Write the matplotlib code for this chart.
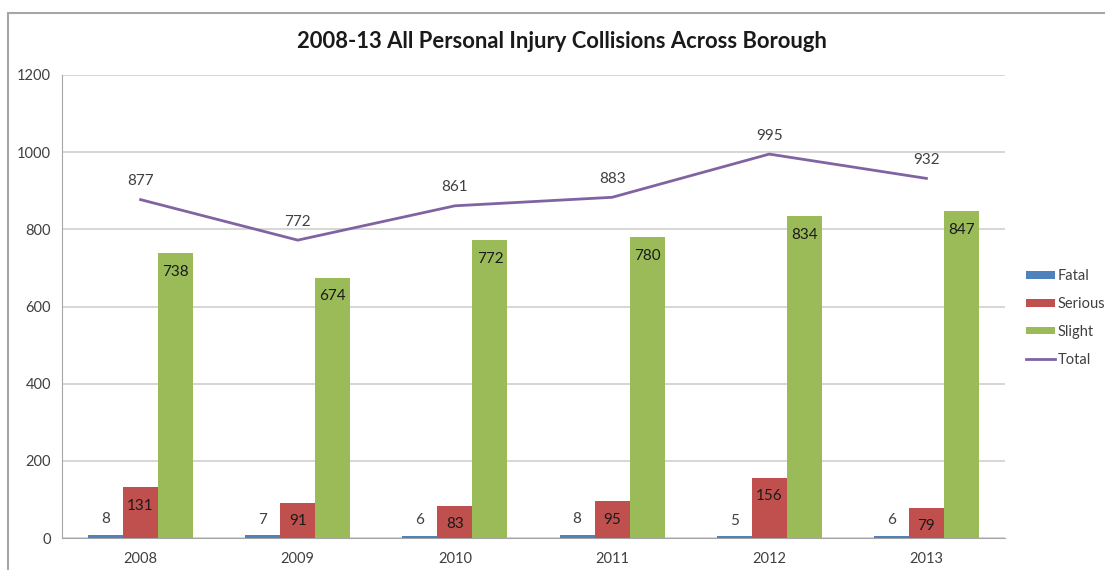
import matplotlib.pyplot as plt
import numpy as np
from matplotlib.patches import Rectangle

years = ['2008', '2009', '2010', '2011', '2012', '2013']
fatal = [8, 7, 6, 8, 5, 6]
serious = [131, 91, 83, 95, 156, 79]
slight = [738, 674, 772, 780, 834, 847]
total = [877, 772, 861, 883, 995, 932]

plt.rcParams['font.family'] = ['Lato', 'DejaVu Sans']

W, H = 1105, 570
fig = plt.figure(figsize=(W / 100, H / 100), dpi=100)
ax = fig.add_axes([62 / W, 1 - 538 / H, (1005 - 62) / W, (538 - 75) / H])

# outer chart frame
fig.patches.append(Rectangle((8 / W, -0.1), 1.2, 1 - 13 / H + 0.1, transform=fig.transFigure,
                             fill=False, edgecolor='#a6a6a6', linewidth=1.5))

x = np.arange(len(years))
w = 0.223
b_fatal = ax.bar(x - w, fatal, w, color='#4F81BD', label='Fatal', zorder=3)
b_serious = ax.bar(x, serious, w, color='#C0504D', label='Serious', zorder=3)
b_slight = ax.bar(x + w, slight, w, color='#9BBB59', label='Slight', zorder=3)
ax.plot(x, total, color='#8064A2', linewidth=2, label='Total', zorder=4)

for i in range(len(years)):
    ax.text(x[i] - w, fatal[i] + 22, str(fatal[i]), ha='center', va='bottom', fontsize=11, color='#404040')
    ax.text(x[i], serious[i] - 48, str(serious[i]), ha='center', va='center', fontsize=11, color='#1a1a1a')
    ax.text(x[i] + w, slight[i] - 48, str(slight[i]), ha='center', va='center', fontsize=11, color='#1a1a1a')
    ax.text(x[i], total[i] + 30, str(total[i]), ha='center', va='bottom', fontsize=11, color='#404040')

ax.set_xlim(-0.5, len(years) - 0.5)
ax.set_ylim(0, 1200)
ax.set_yticks(range(0, 1201, 200))
ax.set_xticks(x)
ax.set_xticklabels(years)
ax.yaxis.grid(True, color='#d0d0d0', linewidth=1.2, zorder=0)
ax.set_axisbelow(True)
for s in ['top', 'right']:
    ax.spines[s].set_visible(False)
ax.spines['left'].set_color('#a6a6a6')
ax.spines['bottom'].set_color('#a6a6a6')
ax.tick_params(axis='y', length=0, labelsize=10.5, labelcolor='#404040', pad=8)
ax.tick_params(axis='x', length=0, labelsize=10.5, labelcolor='#404040', pad=10)

fig.text(562 / W, 1 - 42 / H, '2008-13 All Personal Injury Collisions Across Borough',
         ha='center', va='center', fontsize=15.8, fontweight='bold', color='#1a1a1a')

fig.legend(handles=[b_fatal, b_serious, b_slight, ax.lines[0]], loc='center left',
           bbox_to_anchor=(1026 / W, 1 - 318 / H), frameon=False, fontsize=10.5,
           borderpad=0, borderaxespad=0,
           handlelength=2.0, handleheight=0.4, labelspacing=0.95, handletextpad=0.15,
           labelcolor='#404040')

fig.savefig('out.png', dpi=100)
